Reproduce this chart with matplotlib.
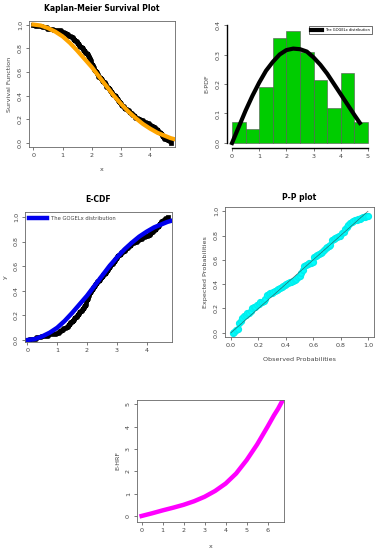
import matplotlib
matplotlib.use("Agg")
import matplotlib.pyplot as plt
import numpy as np

# observed sample (n = 84)
data = [0.06, 0.30, 0.45, 0.68, 0.95,
        1.05, 1.12, 1.20, 1.28, 1.35, 1.40, 1.44, 1.49,
        1.53, 1.57, 1.61, 1.65, 1.70, 1.74, 1.78, 1.82, 1.86, 1.89, 1.92, 1.95, 1.97, 1.98, 1.99,
        2.02, 2.04, 2.06, 2.08, 2.11, 2.14, 2.17, 2.20, 2.23, 2.27, 2.31, 2.35, 2.40, 2.44, 2.47, 2.49,
        2.55, 2.60, 2.64, 2.67, 2.70, 2.74, 2.78, 2.82, 2.86, 2.90, 2.94, 2.97, 2.99,
        3.05, 3.10, 3.15, 3.20, 3.26, 3.32, 3.38, 3.44, 3.49,
        3.58, 3.66, 3.75, 3.85, 3.95,
        4.04, 4.10, 4.16, 4.22, 4.28, 4.33, 4.37, 4.41, 4.45, 4.49,
        4.56, 4.63, 4.70]

# fitted GOGELx curves
fit_x = [0.0, 0.25, 0.5, 0.75, 1.0, 1.25, 1.5, 1.75, 2.0, 2.25, 2.5, 2.75, 3.0,
         3.25, 3.5, 3.75, 4.0, 4.25, 4.5, 4.7, 4.85]
fit_cdf = [0.0, 0.008, 0.03, 0.06, 0.10, 0.155, 0.22, 0.29, 0.36, 0.44, 0.52, 0.60, 0.67,
           0.735, 0.79, 0.84, 0.88, 0.915, 0.94, 0.96, 0.97]
pdf_x = [0.0, 0.25, 0.5, 0.75, 1.0, 1.25, 1.5, 1.75, 2.0, 2.25, 2.5, 2.75, 3.0,
         3.25, 3.5, 3.75, 4.0, 4.25, 4.5, 4.7]
pdf_y = [0.0, 0.055, 0.11, 0.16, 0.205, 0.245, 0.275, 0.30, 0.315, 0.32, 0.318, 0.31, 0.29,
         0.265, 0.235, 0.20, 0.165, 0.13, 0.095, 0.068]
hrf_x = [0.0, 0.5, 1.0, 1.5, 2.0, 2.5, 3.0, 3.5, 4.0, 4.5, 5.0, 5.5, 6.0, 6.3, 6.5, 6.7]
hrf_y = [0.0, 0.12, 0.25, 0.37, 0.5, 0.66, 0.86, 1.12, 1.45, 1.9, 2.5, 3.2, 4.0, 4.5, 4.8, 5.15]

# P-P plot expected probabilities
expected = [0.00, 0.01, 0.02, 0.03, 0.08, 0.10, 0.12, 0.14, 0.15, 0.16, 0.165, 0.18,
            0.20, 0.21, 0.215, 0.225, 0.24, 0.25, 0.255, 0.26, 0.28, 0.31, 0.32, 0.325,
            0.33, 0.335, 0.34, 0.35, 0.36, 0.37, 0.38, 0.385, 0.39, 0.40, 0.41, 0.415,
            0.42, 0.43, 0.435, 0.44, 0.455, 0.47, 0.49, 0.52, 0.55, 0.56, 0.565, 0.57,
            0.575, 0.585, 0.62, 0.63, 0.64, 0.65, 0.655, 0.665, 0.68, 0.70, 0.705, 0.71,
            0.72, 0.76, 0.77, 0.78, 0.79, 0.795, 0.80, 0.82, 0.83, 0.85, 0.87, 0.89,
            0.90, 0.91, 0.92, 0.925, 0.93, 0.935, 0.94, 0.945, 0.95, 0.955, 0.96, 0.965]

W, H = 378, 550
txt = '#444444'
fs = 4.6

fig = plt.figure(figsize=(W / 100, H / 100), dpi=100)


def make_ax(l, t, r, b):
    return fig.add_axes([l / W, 1 - b / H, (r - l) / W, (b - t) / H])


def r_style(ax, box=True):
    ax.tick_params(labelsize=fs, colors=txt, length=2.5, width=0.5, pad=2)
    for lab in ax.get_yticklabels():
        lab.set_rotation(90)
        lab.set_va('center')
    for s in ax.spines.values():
        s.set_color('#666666')
        s.set_linewidth(0.6)
    if not box:
        ax.spines['top'].set_visible(False)
        ax.spines['right'].set_visible(False)


xs = np.sort(np.array(data))
n = len(xs)
ecdf = np.arange(1, n + 1) / n

# Kaplan-Meier
ax1 = make_ax(29, 21, 175, 147)
ax1.step(np.r_[0, xs], np.r_[1, 1 - ecdf], where='post', color='black', lw=3.4)
ax1.plot(fit_x, 1 - np.array(fit_cdf), color='orange', lw=3)
ax1.set_xlim(-0.15, 4.85)
ax1.set_ylim(-0.035, 1.03)
ax1.set_xticks([0, 1, 2, 3, 4])
ax1.set_yticks([0.0, 0.2, 0.4, 0.6, 0.8, 1.0])
ax1.set_yticklabels(['0.0', '0.2', '0.4', '0.6', '0.8', '1.0'])
r_style(ax1)
ax1.set_title('Kaplan-Meier Survival Plot', fontsize=5.5, fontweight='bold', pad=7)
ax1.set_xlabel('x', fontsize=fs, color=txt, labelpad=6)
ax1.set_ylabel('Survival Function', fontsize=fs, color=txt, labelpad=4)

# Histogram / E-PDF
ax2 = make_ax(226.6, 20.3, 373.4, 147.7)
ax2.hist(data, bins=np.arange(0, 5.01, 0.5), density=True, color='#00cc00',
         edgecolor='#555555', linewidth=0.4)
ax2.plot(pdf_x, pdf_y, color='black', lw=3, label='The GOGELx distribution')
ax2.set_xlim(-0.2, 5.2)
ax2.set_ylim(-0.016, 0.416)
ax2.set_xticks([0, 1, 2, 3, 4, 5])
ax2.set_yticks([0.0, 0.1, 0.2, 0.3, 0.4])
ax2.set_yticklabels(['0.0', '0.1', '0.2', '0.3', '0.4'])
r_style(ax2, box=False)
ax2.spines['left'].set_bounds(0, 0.4)
ax2.spines['bottom'].set_bounds(0, 5)
ax2.spines['left'].set_color('black')
ax2.spines['bottom'].set_color('black')
ax2.spines['left'].set_linewidth(1)
ax2.spines['bottom'].set_linewidth(1)
ax2.set_ylabel('E-PDF', fontsize=fs, color=txt, labelpad=4)
ax2.legend(loc='upper right', fontsize=2.6, frameon=True, fancybox=False,
           edgecolor='black', handlelength=3, borderpad=0.6,
           bbox_to_anchor=(1.0, 0.97)).get_frame().set_linewidth(0.5)

# E-CDF
ax3 = make_ax(25, 212, 172, 342)
ax3.step(np.r_[0, xs], np.r_[0, ecdf], where='post', color='black', lw=3.4)
ax3.plot(fit_x, fit_cdf, color='#0000ee', lw=3.2, label='The GOGELx distribution')
ax3.set_xlim(-0.08, 4.85)
ax3.set_ylim(-0.016, 1.04)
ax3.set_xticks([0, 1, 2, 3, 4])
ax3.set_yticks([0.0, 0.2, 0.4, 0.6, 0.8, 1.0])
ax3.set_yticklabels(['0.0', '0.2', '0.4', '0.6', '0.8', '1.0'])
r_style(ax3)
ax3.set_title('E-CDF', fontsize=5.5, fontweight='bold', pad=7)
ax3.set_ylabel('y', fontsize=fs, color=txt, labelpad=4)
ax3.legend(loc='upper left', fontsize=3.8, frameon=False, handlelength=3.5,
           borderaxespad=0.3, labelcolor=txt)

# P-P plot
ax4 = make_ax(225, 207, 374, 337)
ax4.plot(ecdf, expected, 'o', color='#00ffff', ms=4.2, mec='#00eeee')
ax4.plot([0, 1], [0, 1], color='#333333', lw=0.5, alpha=0.7)
ax4.set_xlim(-0.044, 1.044)
ax4.set_ylim(-0.035, 1.035)
ax4.set_xticks([0.0, 0.2, 0.4, 0.6, 0.8, 1.0])
ax4.set_xticklabels(['0.0', '0.2', '0.4', '0.6', '0.8', '1.0'])
ax4.set_yticks([0.0, 0.2, 0.4, 0.6, 0.8, 1.0])
ax4.set_yticklabels(['0.0', '0.2', '0.4', '0.6', '0.8', '1.0'])
r_style(ax4)
ax4.set_title('P-P plot', fontsize=5.5, fontweight='bold', pad=5)
ax4.set_xlabel('Observed Probabilities', fontsize=fs, color=txt, labelpad=6)
ax4.set_ylabel('Expected Probabilities', fontsize=fs, color=txt, labelpad=4)

# E-HRF
ax5 = make_ax(137, 400, 284, 522)
ax5.plot(hrf_x, hrf_y, color='#ff00ff', lw=3.2)
ax5.set_xlim(-0.22, 6.78)
ax5.set_ylim(-0.27, 5.19)
ax5.set_xticks([0, 1, 2, 3, 4, 5, 6])
ax5.set_yticks([0, 1, 2, 3, 4, 5])
r_style(ax5)
ax5.set_xlabel('x', fontsize=fs, color=txt, labelpad=8)
ax5.set_ylabel('E-HRF', fontsize=fs, color=txt, labelpad=4)

fig.savefig('out.png', dpi=100)
